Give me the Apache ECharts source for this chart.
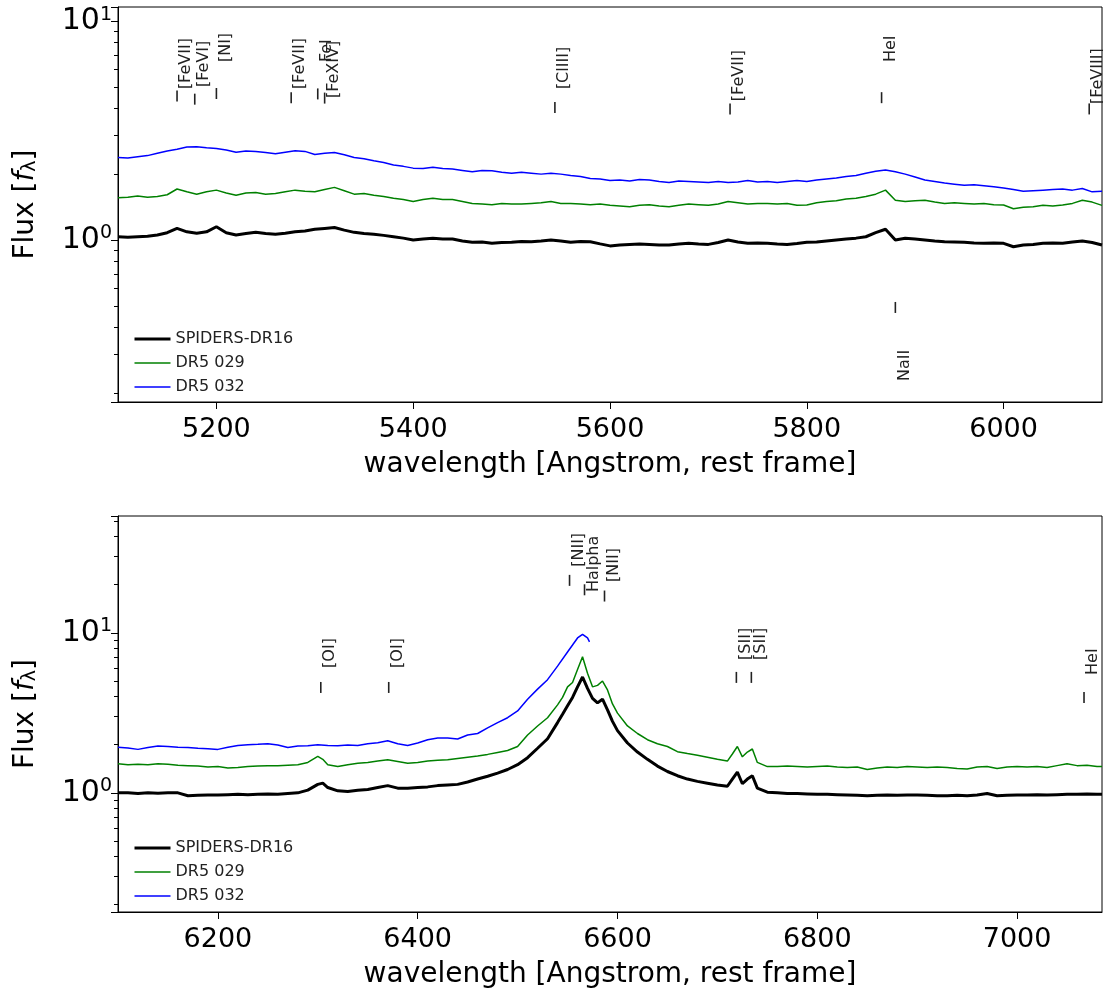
<!DOCTYPE html>
<html><head><meta charset="utf-8">
<script src="https://cdn.jsdelivr.net/npm/echarts@6/dist/echarts.min.js"></script>
<style>html,body{margin:0;padding:0;background:#fff}#c{width:1103px;height:994px}</style>
</head><body><div id="c"></div>
<script>
// ---------- DATA ----------
const seriesNames = ['SPIDERS-DR16', 'DR5 029', 'DR5 032'];

// top panel: wavelength grid (Angstrom) 5100..6100 step 10
const topWave = [5100,5110,5120,5130,5140,5150,5160,5170,5180,5190,5200,5210,5220,5230,5240,5250,5260,5270,5280,5290,5300,5310,5320,5330,5340,5350,5360,5370,5380,5390,5400,5410,5420,5430,5440,5450,5460,5470,5480,5490,5500,5510,5520,5530,5540,5550,5560,5570,5580,5590,5600,5610,5620,5630,5640,5650,5660,5670,5680,5690,5700,5710,5720,5730,5740,5750,5760,5770,5780,5790,5800,5810,5820,5830,5840,5850,5860,5870,5880,5890,5900,5910,5920,5930,5940,5950,5960,5970,5980,5990,6000,6010,6020,6030,6040,6050,6060,6070,6080,6090,6100];
const topSpiders = [1.035,1.03,1.035,1.04,1.054,1.08,1.13,1.09,1.073,1.09,1.15,1.08,1.054,1.07,1.084,1.07,1.062,1.075,1.09,1.10,1.12,1.13,1.14,1.11,1.084,1.07,1.062,1.05,1.035,1.02,1.00,1.01,1.018,1.01,1.01,0.99,0.976,0.98,0.966,0.975,0.976,0.985,0.982,0.99,1.0,0.99,0.976,0.985,0.982,0.96,0.94,0.95,0.955,0.96,0.955,0.95,0.949,0.96,0.966,0.96,0.955,0.975,1.0,0.98,0.966,0.97,0.966,0.96,0.955,0.965,0.976,0.98,0.99,1.0,1.01,1.02,1.035,1.08,1.12,1.0,1.018,1.01,1.0,0.99,0.982,0.98,0.976,0.97,0.966,0.97,0.966,0.932,0.949,0.955,0.966,0.97,0.966,0.98,0.99,0.975,0.949];
const topDr5029 = [1.56,1.57,1.59,1.57,1.58,1.61,1.71,1.66,1.62,1.66,1.69,1.64,1.60,1.64,1.65,1.62,1.63,1.66,1.69,1.67,1.66,1.70,1.74,1.68,1.62,1.63,1.60,1.58,1.55,1.53,1.50,1.53,1.55,1.53,1.53,1.50,1.47,1.46,1.45,1.47,1.46,1.46,1.47,1.48,1.50,1.47,1.47,1.46,1.45,1.46,1.44,1.43,1.42,1.44,1.45,1.43,1.42,1.44,1.46,1.45,1.44,1.46,1.50,1.48,1.46,1.47,1.47,1.46,1.47,1.44,1.445,1.48,1.50,1.51,1.54,1.55,1.58,1.62,1.69,1.52,1.50,1.51,1.52,1.49,1.47,1.48,1.47,1.46,1.47,1.45,1.445,1.39,1.41,1.42,1.44,1.43,1.445,1.47,1.52,1.49,1.44];
const topDr5032 = [2.38,2.37,2.40,2.43,2.49,2.55,2.60,2.66,2.67,2.64,2.62,2.58,2.52,2.55,2.54,2.51,2.48,2.52,2.56,2.54,2.46,2.49,2.51,2.45,2.38,2.35,2.30,2.26,2.20,2.17,2.13,2.12,2.15,2.12,2.11,2.08,2.05,2.08,2.07,2.04,2.02,2.04,2.02,2.00,2.02,2.00,1.97,1.95,1.91,1.90,1.87,1.88,1.86,1.89,1.88,1.85,1.83,1.86,1.85,1.84,1.83,1.85,1.83,1.84,1.87,1.84,1.85,1.83,1.85,1.87,1.85,1.88,1.90,1.92,1.95,1.97,2.02,2.06,2.09,2.05,2.00,1.94,1.88,1.85,1.82,1.80,1.78,1.79,1.77,1.75,1.73,1.70,1.67,1.68,1.69,1.70,1.71,1.69,1.72,1.66,1.67];

// bottom panel
const botWave = [6100,6110,6120,6130,6140,6150,6160,6170,6180,6190,6200,6210,6220,6230,6240,6250,6260,6270,6280,6290,6300,6305,6310,6320,6330,6340,6350,6360,6370,6380,6390,6400,6410,6420,6430,6440,6450,6460,6470,6480,6490,6500,6510,6520,6530,6540,6545,6550,6555,6560,6565,6570,6575,6580,6585,6590,6595,6600,6610,6620,6630,6640,6650,6660,6670,6680,6690,6700,6710,6715,6720,6725,6730,6735,6740,6750,6760,6770,6780,6790,6800,6810,6820,6830,6840,6850,6860,6870,6880,6890,6900,6910,6920,6930,6940,6950,6960,6970,6980,6990,7000,7010,7020,7030,7040,7050,7060,7070,7080,7085];
const botSpiders = [1.0,1.0,0.99,1.0,0.995,1.0,1.0,0.96,0.965,0.97,0.97,0.975,0.98,0.975,0.98,0.985,0.98,0.99,1.0,1.04,1.13,1.15,1.08,1.03,1.02,1.04,1.05,1.08,1.11,1.07,1.07,1.08,1.09,1.11,1.12,1.13,1.17,1.22,1.27,1.33,1.40,1.50,1.66,1.90,2.18,2.75,3.1,3.5,3.95,4.6,5.3,4.5,3.9,3.65,3.85,3.3,2.8,2.45,2.05,1.80,1.62,1.47,1.36,1.28,1.22,1.18,1.15,1.12,1.10,1.22,1.35,1.14,1.22,1.28,1.07,1.01,1.0,0.99,0.99,0.985,0.98,0.98,0.975,0.97,0.965,0.96,0.965,0.97,0.965,0.97,0.97,0.965,0.96,0.96,0.965,0.96,0.97,0.99,0.96,0.965,0.97,0.97,0.975,0.97,0.975,0.98,0.98,0.985,0.98,0.98];
const botDr5029 = [1.52,1.50,1.51,1.50,1.52,1.51,1.49,1.48,1.47,1.45,1.46,1.43,1.44,1.46,1.47,1.48,1.48,1.49,1.50,1.55,1.69,1.62,1.50,1.46,1.50,1.53,1.55,1.58,1.61,1.57,1.53,1.55,1.58,1.60,1.61,1.64,1.67,1.70,1.74,1.79,1.84,1.95,2.30,2.62,2.95,3.55,3.95,4.6,4.9,5.9,7.1,5.6,4.6,4.7,5.0,4.4,3.6,3.15,2.62,2.35,2.15,2.03,1.95,1.81,1.76,1.72,1.67,1.62,1.58,1.75,1.95,1.68,1.80,1.88,1.55,1.46,1.46,1.47,1.46,1.45,1.46,1.47,1.45,1.44,1.45,1.40,1.43,1.45,1.44,1.46,1.45,1.44,1.45,1.44,1.42,1.41,1.45,1.46,1.42,1.45,1.46,1.45,1.46,1.44,1.48,1.52,1.48,1.49,1.46,1.46];
const botBlueWave = [6100,6110,6120,6130,6140,6150,6160,6170,6180,6190,6200,6210,6220,6230,6240,6250,6260,6270,6280,6290,6300,6310,6320,6330,6340,6350,6360,6370,6380,6390,6400,6410,6420,6430,6440,6450,6460,6470,6480,6490,6500,6510,6520,6530,6540,6550,6555,6560,6565,6570,6572];
const botDr5032 = [1.93,1.91,1.87,1.92,1.96,1.95,1.93,1.92,1.90,1.89,1.87,1.93,1.98,2.00,2.01,2.03,1.99,1.92,1.96,1.97,2.0,1.98,1.97,1.99,1.98,2.03,2.06,2.12,2.03,1.98,2.05,2.15,2.20,2.20,2.17,2.30,2.35,2.55,2.75,2.95,3.25,3.85,4.45,5.1,6.2,7.6,8.4,9.3,9.8,9.3,8.8];

// line identifications: [wavelength, tick level, label level]
const topLineNames = ['[FeVII]','[FeVI]','[NI]','[FeVII]','FeI','[FeXIV]','[ClIII]','[FeVII]','HeI','[FeVIII]','NaII'];
const topLineWave  = [5160, 5178, 5200, 5276, 5303, 5310, 5544, 5722, 5876, 6087, 5890];
const topLineTick  = [4.55, 4.40, 4.67, 4.47, 4.65, 4.45, 4.03, 3.97, 4.47, 3.97, 0.492];
const topLineLabel = [4.89, 5.00, 6.50, 4.89, 6.50, 4.45, 4.89, 4.31, 6.50, 4.18, 0.315];
const topLineBelow = [0,0,0,0,0,0,0,0,0,0,1];
const botLineNames = ['[OI]','[OI]','[NII]','Halpha','[NII]','[SII]','[SII]','HeI'];
const botLineWave  = [6303, 6371, 6552, 6567, 6587, 6719, 6734, 7067];
const botLineTick  = [4.56, 4.56, 21.3, 18.6, 17.0, 5.27, 5.27, 3.95];
const botLineLabel = [6.04, 6.04, 25.9, 18.0, 20.8, 6.78, 6.78, 5.46];
const botLineBelow = [0,0,0,0,0,0,0,0];

const topXTicks = [5200, 5400, 5600, 5800, 6000];
const botXTicks = [6200, 6400, 6600, 6800, 7000];

// ---------- CHART ----------
const FONT = '"DejaVu Sans", sans-serif';
const zip = (xs, ys) => ys.map((v, i) => [xs[i], v]);
const colors = ['#000000', '#008000', '#0000ff'];
const widths = [3, 1.5, 1.5];

function yLabel(v) {
  const e = Math.round(Math.log10(v));
  if (Math.abs(Math.log10(v) - e) > 1e-6) return '';
  return '{b|10}{s|' + e + '}';
}
function yAxis(gi, min, max) {
  return {
    type: 'log', logBase: 10, gridIndex: gi, min: min, max: max,
    axisLine: { show: true, lineStyle: { color: '#000', width: 1 } },
    axisTick: { show: true, length: 7, lineStyle: { color: '#000', width: 1 } },
    minorTick: { show: true, splitNumber: 9, length: 4, lineStyle: { color: '#000', width: 1 } },
    splitLine: { show: false }, minorSplitLine: { show: false },
    axisLabel: {
      formatter: yLabel, margin: 6, color: '#000',
      rich: {
        b: { fontSize: 30, fontFamily: FONT, color: '#000', lineHeight: 32 },
        s: { fontSize: 19, fontFamily: FONT, color: '#000', verticalAlign: 'top', lineHeight: 32 }
      }
    },
    name: 'Flux [{i|f}{s|λ}]', nameLocation: 'middle', nameGap: 78, nameRotate: 90,
    nameTextStyle: {
      fontSize: 28, fontFamily: FONT, color: '#000',
      rich: {
        i: { fontSize: 28, fontFamily: FONT, fontStyle: 'italic', color: '#000' },
        s: { fontSize: 19, fontFamily: FONT, color: '#000', verticalAlign: 'bottom' }
      }
    }
  };
}
function xAxis(gi, min, max, ticks) {
  return {
    type: 'value', gridIndex: gi, min: min, max: max,
    axisLine: { show: true, onZero: false, lineStyle: { color: '#000', width: 1 } },
    axisTick: { show: true, length: 7, customValues: ticks, lineStyle: { color: '#000', width: 1 } },
    axisLabel: { customValues: ticks, formatter: v => String(v), fontSize: 27, fontFamily: FONT, color: '#000', margin: 14 },
    splitLine: { show: false },
    name: 'wavelength [Angstrom, rest frame]', nameLocation: 'middle', nameGap: 49,
    nameTextStyle: { fontSize: 28, fontFamily: FONT, color: '#000' }
  };
}
function lineSeries(gi, names, data) {
  return data.map((d, k) => ({
    type: 'line', name: names[k], xAxisIndex: gi, yAxisIndex: gi, data: d,
    symbol: 'none', showSymbol: false, smooth: false, animation: false,
    lineStyle: { color: colors[k], width: widths[k] }, itemStyle: { color: colors[k] },
    z: 3 + k
  }));
}
function annotSeries(gi, names, waves, ticks, labels, below) {
  return {
    type: 'custom', xAxisIndex: gi, yAxisIndex: gi, animation: false, silent: true, clip: false, z: 10,
    data: waves.map((w, i) => [w, ticks[i], labels[i]]),
    renderItem: function (params, api) {
      const i = params.dataIndex;
      const p = api.coord([api.value(0), api.value(1)]);
      const q = api.coord([api.value(0), api.value(2)]);
      return {
        type: 'group', children: [
          { type: 'line', shape: { x1: p[0], y1: p[1] - 5.5, x2: p[0], y2: p[1] + 5.5 },
            style: { stroke: '#222', lineWidth: 1.6 } },
          { type: 'text', x: q[0] + 1, y: q[1], rotation: Math.PI / 2,
            style: { text: names[i], fill: '#222', font: '16px ' + FONT,
                     align: below[i] ? 'right' : 'left', verticalAlign: 'top' } }
        ]
      };
    }
  };
}
function legend(top) {
  return {
    left: 128, top: top, orient: 'vertical', itemWidth: 36, itemHeight: 14, itemGap: 8,
    itemStyle: { opacity: 0 },
    data: seriesNames.map((n, k) => ({ name: n, lineStyle: { width: widths[k], color: colors[k] }, itemStyle: { opacity: 0 } })),
    textStyle: { fontSize: 16, fontFamily: FONT, color: '#222' }
  };
}

const chart = echarts.init(document.getElementById('c'), null, { renderer: 'canvas' });
chart.setOption({
  animation: false,
  backgroundColor: '#fff',
  grid: [
    { left: 118, right: 1, top: 7, height: 395, show: true, borderColor: '#000', borderWidth: 1 },
    { left: 118, right: 1, top: 516, height: 396, show: true, borderColor: '#000', borderWidth: 1 }
  ],
  xAxis: [xAxis(0, 5100, 6100, topXTicks), xAxis(1, 6100, 7085, botXTicks)],
  yAxis: [yAxis(0, 0.182, 11.6), yAxis(1, 0.18, 53.8)],
  legend: [legend(326), legend(835)],
  series: [
    ...lineSeries(0, seriesNames, [zip(topWave, topSpiders), zip(topWave, topDr5029), zip(topWave, topDr5032)]),
    ...lineSeries(1, seriesNames, [zip(botWave, botSpiders), zip(botWave, botDr5029), zip(botBlueWave, botDr5032)]),
    annotSeries(0, topLineNames, topLineWave, topLineTick, topLineLabel, topLineBelow),
    annotSeries(1, botLineNames, botLineWave, botLineTick, botLineLabel, botLineBelow)
  ]
});
</script></body></html>
